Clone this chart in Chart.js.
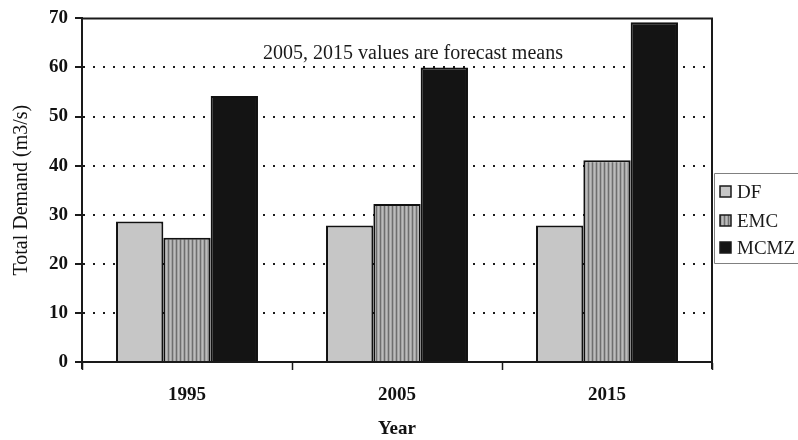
<!DOCTYPE html>
<html>
<head>
<meta charset="utf-8">
<script src="https://cdn.jsdelivr.net/npm/chart.js@4/dist/chart.umd.min.js"></script>
<style>
  html, body { margin: 0; padding: 0; background: #fff; }
  #wrap { width: 798px; height: 440px; position: relative; }
</style>
</head>
<body>
<div id="wrap"><canvas id="c" width="798" height="440"></canvas></div>
<script>
// Total water demand by year and source
const years = ['1995', '2005', '2015'];
const seriesNames = ['DF', 'EMC', 'MCMZ'];
const dfValues = [28.6, 27.8, 27.8];
const emcValues = [25.3, 32.2, 41.1];
const mcmzValues = [54.2, 60.0, 69.2];
const yTicks = [0, 10, 20, 30, 40, 50, 60, 70];
const note = '2005, 2015 values are forecast means';

const SERIF = '"Liberation Serif", "Times New Roman", serif';

// Vertical-stripe fill for the EMC bars
function stripePattern() {
  const t = document.createElement('canvas');
  t.width = 4; t.height = 4;
  const g = t.getContext('2d');
  g.fillStyle = '#a4a4a4';
  g.fillRect(0, 0, 4, 4);
  g.fillStyle = '#6e6e6e';
  g.fillRect(0, 0, 1, 4);
  g.fillStyle = '#bcbcbc';
  g.fillRect(2, 0, 1, 4);
  return document.getElementById('c').getContext('2d').createPattern(t, 'repeat');
}

const fills = ['#c6c6c6', stripePattern(), '#141414'];
const seriesValues = [dfValues, emcValues, mcmzValues];

// Plot frame edges, outward y tick marks, forecast note and the legend box
const extras = {
  id: 'extras',
  afterDraw(chart) {
    const { ctx, chartArea: a, scales } = chart;
    ctx.save();
    ctx.strokeStyle = '#1a1a1a';
    ctx.lineWidth = 2;
    ctx.beginPath();
    ctx.moveTo(a.left, a.top);
    ctx.lineTo(a.right, a.top);
    ctx.lineTo(a.right, a.bottom + 7);
    ctx.moveTo(a.left, a.bottom);
    ctx.lineTo(a.left, a.bottom + 7);
    ctx.stroke();

    // y tick marks pointing outward
    ctx.beginPath();
    yTicks.forEach(v => {
      const py = Math.round(scales.y.getPixelForValue(v));
      ctx.moveTo(a.left - 7, py);
      ctx.lineTo(a.left, py);
    });
    ctx.stroke();

    // note above the 60 line
    ctx.fillStyle = '#1a1a1a';
    ctx.font = '20px ' + SERIF;
    ctx.textAlign = 'center';
    ctx.textBaseline = 'alphabetic';
    ctx.fillText(note, 413, scales.y.getPixelForValue(60) - 8);

    // legend
    const lx = 714, ly = 173, lh = 90;
    ctx.strokeStyle = '#808080';
    ctx.lineWidth = 1;
    ctx.beginPath();
    ctx.moveTo(800, ly + 0.5);
    ctx.lineTo(lx + 0.5, ly + 0.5);
    ctx.lineTo(lx + 0.5, ly + lh + 0.5);
    ctx.lineTo(800, ly + lh + 0.5);
    ctx.stroke();
    ctx.font = '19px ' + SERIF;
    ctx.textAlign = 'left';
    ctx.textBaseline = 'middle';
    const rows = [192, 221, 248];
    chart.data.datasets.forEach((ds, i) => {
      const cy = rows[i];
      ctx.fillStyle = ds.backgroundColor;
      ctx.fillRect(720, cy - 6, 11, 11);
      ctx.strokeStyle = '#1a1a1a';
      ctx.lineWidth = 1.5;
      ctx.strokeRect(720, cy - 6, 11, 11);
      ctx.fillStyle = '#1a1a1a';
      ctx.fillText(ds.label, 737, cy + 1);
    });
    ctx.restore();
  }
};

new Chart(document.getElementById('c'), {
  type: 'bar',
  data: {
    labels: years,
    datasets: seriesNames.map((name, i) => ({
      label: name,
      data: seriesValues[i],
      backgroundColor: fills[i],
      borderColor: '#111',
      borderWidth: 2,
      categoryPercentage: 0.676,
      barPercentage: 1.0
    }))
  },
  options: {
    responsive: false,
    animation: false,
    devicePixelRatio: 1,
    layout: { padding: { left: 0, right: 86, top: 16, bottom: 0 } },
    plugins: { legend: { display: false }, tooltip: { enabled: false } },
    scales: {
      x: {
        grid: {
          display: true,
          offset: true,
          drawOnChartArea: false,
          drawTicks: true,
          tickLength: 8,
          tickColor: '#1a1a1a',
          tickWidth: 1.5
        },
        border: { display: true, color: '#1a1a1a', width: 2 },
        ticks: {
          color: '#111',
          font: { family: SERIF, size: 19, weight: 'bold' },
          padding: 14
        },
        title: {
          display: true,
          text: 'Year',
          color: '#111',
          font: { family: SERIF, size: 19, weight: 'bold' },
          padding: { top: 8, bottom: 0 }
        },
        afterFit(s) { s.height = 78; }
      },
      y: {
        min: 0,
        max: 70,
        afterBuildTicks(s) { s.ticks = yTicks.map(v => ({ value: v })); },
        grid: {
          color: c => (c.tick && (c.tick.value === 0 || c.tick.value === 70)) ? 'rgba(0,0,0,0)' : '#1a1a1a',
          lineWidth: 2,
          drawTicks: true,
          tickLength: 7,
          tickColor: 'rgba(0,0,0,0)'
        },
        border: { display: true, color: '#1a1a1a', width: 2, dash: [2, 8], dashOffset: 0 },
        ticks: {
          color: '#111',
          font: { family: SERIF, size: 19, weight: 'bold' },
          padding: 7
        },
        title: {
          display: true,
          text: 'Total Demand (m3/s)',
          color: '#111',
          font: { family: SERIF, size: 20 },
          padding: { top: 10, bottom: 0 }
        },
        afterFit(s) { s.width = 82; }
      }
    }
  },
  plugins: [extras]
});
</script>
</body>
</html>
